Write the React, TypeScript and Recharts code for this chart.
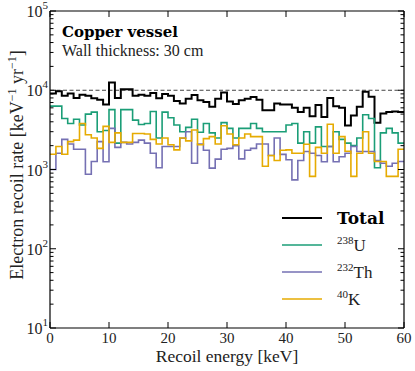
import React from "react";
import { ComposedChart, Line, XAxis, YAxis, ReferenceLine, Legend } from "recharts";

const FONT = "'Liberation Serif', 'DejaVu Serif', serif";
const BOLD_FONT = "'DejaVu Serif', 'Liberation Serif', serif";

// bin edges in keV (1 keV bins)
const EDGES = [
  0, 1, 2, 3, 4, 5, 6, 7, 8, 9, 10, 11, 12, 13, 14, 15, 16, 17, 18, 19,
  20, 21, 22, 23, 24, 25, 26, 27, 28, 29, 30, 31, 32, 33, 34, 35, 36, 37, 38, 39,
  40, 41, 42, 43, 44, 45, 46, 47, 48, 49, 50, 51, 52, 53, 54, 55, 56, 57, 58, 59, 60,
];

// rates per bin [keV^-1 yr^-1]
const TOTAL = [
  9100, 9700, 8500, 9100, 8000, 8800, 8500, 7900, 7600, 6600,
  12500, 8000, 10300, 10300, 8500, 8800, 8500, 9200, 7900, 9000,
  8500, 7300, 6800, 7800, 8700, 7500, 7100, 6200, 7800, 9400,
  7200, 6700, 7500, 7800, 8200, 7600, 5600, 5600, 6800, 6600,
  6600, 6000, 5300, 6000, 4700, 6500, 4600, 8000, 6300, 6000,
  3600, 4800, 6200, 9600, 8300, 3900, 5100, 5300, 5400, 5300,
];
const U238 = [
  6300, 6300, 4400, 3800, 4300, 3650, 5000, 5300, 3000, 3100,
  5700, 2150, 5700, 5700, 4200, 3700, 3800, 5400, 2500, 5300,
  4500, 3650, 3000, 3400, 4300, 2950, 3800, 2900, 2500, 3900,
  3300, 2500, 3300, 3300, 3800, 3300, 3000, 3000, 3000, 3000,
  3650, 3800, 2150, 3000, 2150, 3450, 1950, 1950, 3000, 2400,
  2150, 2000, 2500, 4900, 4400, 1050, 2900, 3300, 2900, 2150,
];
const TH232 = [
  1000, 1600, 2400, 2100, 1800, 1800, 870, 1260, 2250, 1250,
  3300, 1900, 2200, 2100, 2200, 2350, 2150, 1600, 1050, 1950,
  1950, 1950, 2480, 3000, 1200, 2100, 1750, 1040, 1350, 1800,
  1850, 2000, 1360, 1750, 1850, 2100, 2100, 1500, 2500, 1550,
  1330, 740, 1300, 1690, 1600, 1500, 1250, 1950, 1250, 1450,
  1600, 1950, 1690, 1690, 1690, 1300, 1200, 1100, 1200, 1260,
];
const K40 = [
  1560, 1950, 1560, 2250, 2350, 3800, 2750, 2500, 1850, 3500,
  2200, 2900, 2200, 2200, 2850, 2850, 2800, 2400, 2100, 2500,
  2050, 1770, 2500, 2300, 3150, 2050, 2450, 2600, 2100, 3570,
  2800, 2050, 2500, 2800, 2600, 2600, 1100, 1500, 1300, 1750,
  1770, 1600, 1600, 2080, 820, 1900, 1600, 3720, 1600, 2600,
  1700, 820, 1600, 3000, 1600, 1260, 1260, 820, 820, 1800,
];

const X_TICKS = [0, 10, 20, 30, 40, 50, 60];
const Y_TICKS = [
  10, 20, 30, 40, 50, 60, 70, 80, 90,
  100, 200, 300, 400, 500, 600, 700, 800, 900,
  1000, 2000, 3000, 4000, 5000, 6000, 7000, 8000, 9000,
  10000, 20000, 30000, 40000, 50000, 60000, 70000, 80000, 90000,
  100000,
];
const Y_MAJOR = [10, 100, 1000, 10000, 100000];
const REFERENCE_RATE = 10000;

const SERIES = [
  { key: "total", name: "Total", iso: "", values: TOTAL, color: "#000000", width: 2 },
  { key: "u238", name: "U", iso: "238", values: U238, color: "#1b9e77", width: 1.6 },
  { key: "th232", name: "Th", iso: "232", values: TH232, color: "#7570b3", width: 1.6 },
  { key: "k40", name: "K", iso: "40", values: K40, color: "#e6ab02", width: 1.6 },
];

// step data: last bin value repeated at the right edge
const data = EDGES.map((e, i) => {
  const j = Math.min(i, TOTAL.length - 1);
  const row: any = { e };
  SERIES.forEach(s => { row[s.key] = s.values[j]; });
  return row;
});

const BottomTick = ({ x, y, payload }: any) => (
  <g>
    <line x1={x} x2={x} y1={y} y2={y - 6} stroke="#000" strokeWidth={1} />
    <text x={x} y={y + 15} textAnchor="middle" fontFamily={FONT} fontSize={15} fill="#222">{payload.value}</text>
  </g>
);
const TopTick = ({ x, y }: any) => (
  <line x1={x} x2={x} y1={y} y2={y + 6} stroke="#000" strokeWidth={1} />
);
const LeftTick = ({ x, y, payload }: any) => {
  const major = Y_MAJOR.includes(payload.value);
  return (
    <g>
      <line x1={x} x2={x + (major ? 6 : 3.5)} y1={y} y2={y} stroke="#000" strokeWidth={1} />
      {major && (
        <text x={x - 2} y={y + 6} textAnchor="end" fontFamily={FONT} fontSize={16} fill="#222">
          10<tspan dy={-8} fontSize={11}>{Math.round(Math.log10(payload.value))}</tspan>
        </text>
      )}
    </g>
  );
};
const RightTick = ({ x, y, payload }: any) => {
  const major = Y_MAJOR.includes(payload.value);
  return <line x1={x} x2={x - (major ? 6 : 3.5)} y1={y} y2={y} stroke="#000" strokeWidth={1} />;
};

const renderLegend = () => (
  <svg width={135} height={115}>
    {SERIES.map((s, i) => {
      const cy = 18 + i * 27;
      return (
        <g key={s.key}>
          <line x1={4} x2={44} y1={cy} y2={cy} stroke={s.color} strokeWidth={s.width} />
          {s.iso === "" ? (
            <text x={59} y={cy + 6} fontFamily={BOLD_FONT} fontWeight="bold" fontSize={17} fill="#000">{s.name}</text>
          ) : (
            <text x={59} y={cy + 6} fontFamily={FONT} fontSize={17} fill="#222">
              <tspan fontSize={11} dy={-7}>{s.iso}</tspan>
              <tspan dy={7}>{s.name}</tspan>
            </text>
          )}
        </g>
      );
    })}
  </svg>
);

export default function App() {
  return (
    <div style={{ position: "absolute", left: 0, top: 0, width: 415, height: 371, background: "#fff" }}>
      <ComposedChart width={415} height={371} data={data} margin={{ top: 0, right: 0, bottom: 0, left: 0 }}>
        <XAxis dataKey="e" type="number" domain={[0, 60]} ticks={X_TICKS} interval={0}
          tickSize={0} tickMargin={0} tick={<BottomTick />} height={43}
          axisLine={{ stroke: "#000", strokeWidth: 1.2 }} tickLine={false} />
        <XAxis xAxisId="top" orientation="top" dataKey="e" type="number" domain={[0, 60]} ticks={X_TICKS} interval={0}
          tickSize={0} tickMargin={0} tick={<TopTick />} height={11}
          axisLine={{ stroke: "#000", strokeWidth: 1.2 }} tickLine={false} />
        <YAxis type="number" scale="log" domain={[10, 100000]} allowDataOverflow ticks={Y_TICKS} interval={0}
          tickSize={0} tickMargin={0} tick={<LeftTick />} width={50}
          axisLine={{ stroke: "#000", strokeWidth: 1.2 }} tickLine={false} />
        <YAxis yAxisId="right" orientation="right" type="number" scale="log" domain={[10, 100000]} allowDataOverflow
          ticks={Y_TICKS} interval={0} tickSize={0} tickMargin={0} tick={<RightTick />} width={11}
          axisLine={{ stroke: "#000", strokeWidth: 1.2 }} tickLine={false} />
        <ReferenceLine y={REFERENCE_RATE} stroke="#444" strokeWidth={1} strokeDasharray="4 2.5" />
        {SERIES.map(s => (
          <Line key={s.key} dataKey={s.key} name={s.name} type="stepAfter" stroke={s.color}
            strokeWidth={s.width} dot={false} activeDot={false} isAnimationActive={false} />
        ))}
        <Legend layout="vertical" align="center" verticalAlign="middle" content={renderLegend}
          wrapperStyle={{ position: "absolute", left: 278, top: 200, width: 135, height: 115 }} />
      </ComposedChart>
      <svg width={415} height={371} style={{ position: "absolute", left: 0, top: 0, pointerEvents: "none" }}>
        <text x={62} y={37} fontFamily={BOLD_FONT} fontWeight="bold" fontSize={15} fill="#000">Copper vessel</text>
        <text x={62} y={56} fontFamily={FONT} fontSize={16} fill="#222">Wall thickness: 30 cm</text>
        <text x={227} y={362} textAnchor="middle" fontFamily={FONT} fontSize={17.5} fill="#222">Recoil energy [keV]</text>
        <text transform="translate(23,165) rotate(-90)" textAnchor="middle" fontFamily={FONT} fontSize={18} fill="#222">
          Electron recoil rate [keV<tspan dy={-7} fontSize={12}>−1</tspan><tspan dy={7}> yr</tspan><tspan dy={-7} fontSize={12}>−1</tspan><tspan dy={7}>]</tspan>
        </text>
      </svg>
    </div>
  );
}
